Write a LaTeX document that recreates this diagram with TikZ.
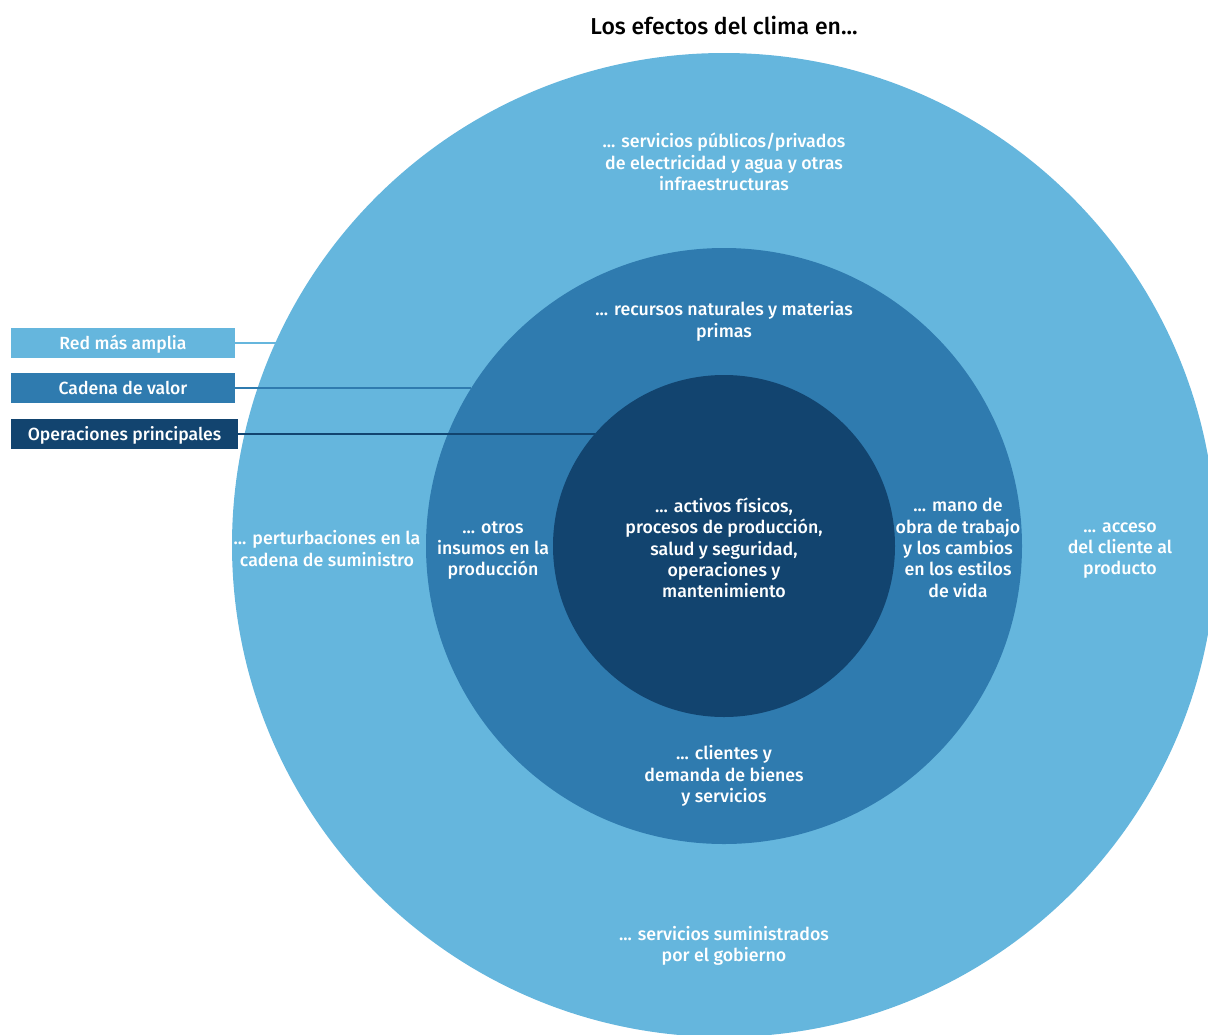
\documentclass[tikz,border=0pt]{standalone}
\usepackage{fontspec}
\setmainfont{Fira Sans Medium}
\definecolor{cOuter}{HTML}{65B6DD}
\definecolor{cMid}{HTML}{2F7BAF}
\definecolor{cInner}{HTML}{12446F}
\begin{document}
\begin{tikzpicture}[x=1pt,y=-1pt,
  ring/.style={circle,inner sep=0pt,outer sep=0pt,draw=none},
  lbl/.style={text=white,align=center,font=\fontsize{17.8}{21.4}\selectfont,inner sep=0pt},
  legbox/.style={text=white,font=\fontsize{17.6}{20}\selectfont,inner sep=0pt,outer sep=0pt,minimum height=30pt,text height=14.5pt,text depth=1.5pt},
  leader/.style={line width=1.3pt}]
\useasboundingbox (0,0) rectangle (1208,1034);
\clip (0,0) rectangle (1208,1034);
\node[ring,fill=cOuter,minimum size=984pt] (outer) at (724,545) {};
\node[ring,fill=cMid,minimum size=596pt] (mid) at (724,546) {};
\node[ring,fill=cInner,minimum size=342pt] (inner) at (724,546) {};
\node[font=\fontsize{23}{27}\selectfont,text=black,inner sep=0pt] (title) at (724,26) {Los efectos del clima en...};
\node[lbl] (t1) at (724,162) {... servicios públicos/privados\\de electricidad y agua y otras\\infraestructuras};
\node[lbl] (t2) at (724,321.5) {... recursos naturales y materias\\primas};
\node[lbl] (t3) at (724,548) {... activos físicos,\\procesos de producción,\\salud y seguridad,\\operaciones y\\mantenimiento};
\node[lbl] (t4) at (958,548) {... mano de\\obra de trabajo\\y los cambios\\en los estilos\\de vida};
\node[lbl] (t5) at (1120,550.5) {... acceso\\del cliente al\\producto};
\node[lbl] (t6) at (327,548.5) {... perturbaciones en la\\cadena de suministro};
\node[lbl] (t7) at (493,550.5) {... otros\\insumos en la\\producción};
\node[lbl] (t8) at (724,776) {... clientes y\\demanda de bienes\\y servicios};
\node[lbl] (t9) at (724,946) {... servicios suministrados\\por el gobierno};
\node[legbox,fill=cOuter,minimum width=224pt] (l1) at (123,343) {Red más amplia};
\node[legbox,fill=cMid,minimum width=224pt] (l2) at (123,388) {Cadena de valor};
\node[legbox,fill=cInner,minimum width=227pt] (l3) at (124.5,434) {Operaciones principales};
\coordinate (p1) at (outer.155.76);
\coordinate (p2) at (mid.148.3);
\coordinate (p3) at (inner.139.5);
\draw[leader,cOuter] (l1.east) -- (l1.east -| p1);
\draw[leader,cMid] (l2.east) -- (l2.east -| p2);
\draw[leader,cInner] (l3.east) -- (l3.east -| p3);
\end{tikzpicture}
\end{document}
